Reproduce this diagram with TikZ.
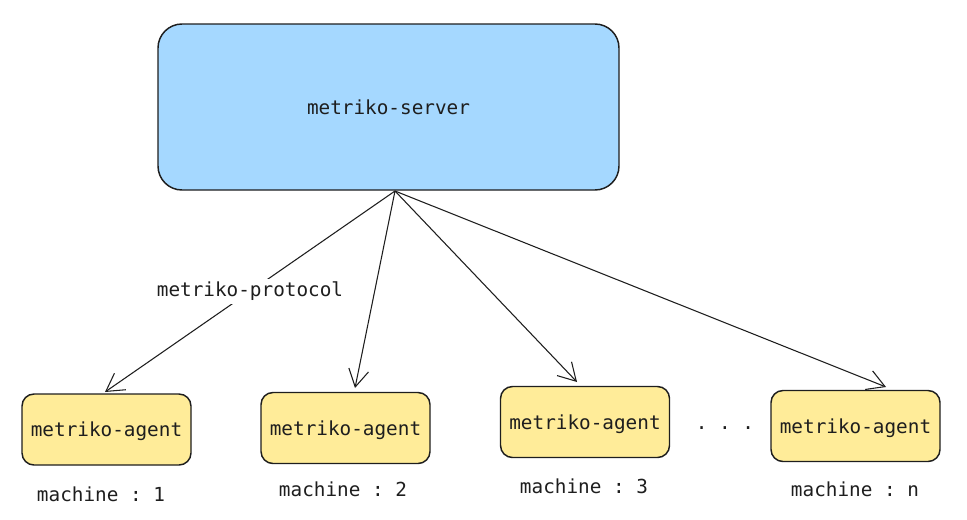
\documentclass[tikz,border=0pt]{standalone}
\usepackage{fontspec}
\setmonofont{DejaVu Sans Mono}
\usetikzlibrary{arrows.meta,calc}
\definecolor{ink}{HTML}{1E1E1E}
\definecolor{srvfill}{HTML}{A5D8FF}
\definecolor{agfill}{HTML}{FFEC99}
\tikzset{
  srvbox/.style={draw=ink, line width=1.1pt, fill=srvfill, rounded corners=18pt, minimum width=345.75pt, minimum height=124.5pt, font=\ttfamily\fontsize{14.5}{16}\selectfont, text=ink, text depth=0pt},
  agbox/.style={draw=ink, line width=1.1pt, fill=agfill, rounded corners=9pt, minimum width=126.75pt, minimum height=53.25pt, font=\ttfamily\fontsize{14.5}{16}\selectfont, text=ink, text depth=0pt},
  lbl/.style={font=\ttfamily\fontsize{14.5}{16}\selectfont, text=ink, inner sep=2pt},
  conn/.style={draw=ink, line width=0.8pt, -{Straight Barb[length=13pt,width=15pt,line width=0.8pt]}},
}
\begin{document}
\begin{tikzpicture}[x=0.75pt,y=-0.75pt]
\useasboundingbox (0,0) rectangle (967,519);
\node[srvbox] (srv) at (388.5,107) {metriko-server};
\node[agbox] (a1) at (106.5,429.5) {metriko-agent};
\node[agbox] (a2) at (345.5,428) {metriko-agent};
\node[agbox] (a3) at (585,422) {metriko-agent};
\node[agbox] (an) at (855.5,426) {metriko-agent};
\node[lbl] (m1) at (101,494) {machine : 1};
\node[lbl] (m2) at (343,489) {machine : 2};
\node[lbl] (m3) at (584,486) {machine : 3};
\node[lbl] (mn) at (855,489) {machine : n};
\node[lbl] (dots) at (725,428) {. . .};
\coordinate (hub) at (395,191);
\coordinate (t1) at (105,392);
\coordinate (t2) at (355,388);
\coordinate (t3) at (577,382);
\coordinate (tn) at (886,387);
\draw[conn] (hub) -- node[lbl, fill=white, pos=0.5] (proto) {metriko-protocol} (t1);
\draw[conn] (hub) -- (t2);
\draw[conn] (hub) -- (t3);
\draw[conn] (hub) -- (tn);
\end{tikzpicture}
\end{document}
